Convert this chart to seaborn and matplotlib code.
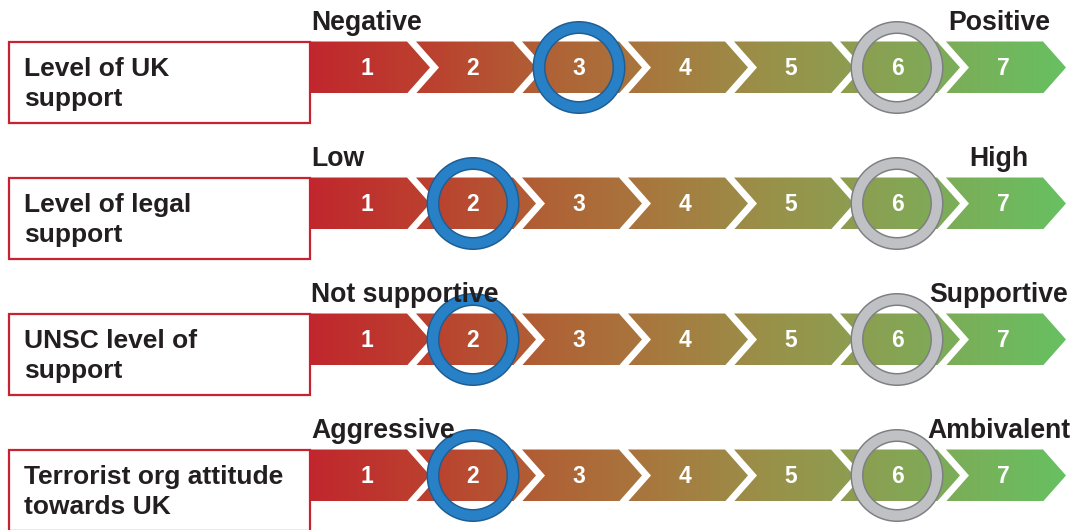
import numpy as np
import pandas as pd
import matplotlib
matplotlib.use("Agg")
import matplotlib.pyplot as plt
from matplotlib.colors import LinearSegmentedColormap
from matplotlib.patches import Rectangle, PathPatch
from matplotlib.path import Path
import seaborn as sns

# ---- data -------------------------------------------------------------
categories = [
    "Level of UK\nsupport",
    "Level of legal\nsupport",
    "UNSC level of\nsupport",
    "Terrorist org attitude\ntowards UK",
]
low_labels = ["Negative", "Low", "Not supportive", "Aggressive"]
high_labels = ["Positive", "High", "Supportive", "Ambivalent"]
scale_steps = [1, 2, 3, 4, 5, 6, 7]
current_score = [3, 2, 2, 2]
target_score = [6, 6, 6, 6]

# ---- styling ----------------------------------------------------------
sns.set_theme(style="white")
plt.rcParams["font.family"] = ["Liberation Sans", "DejaVu Sans"]

W, H, DPI = 1077, 530, 100
STEP_X0, STEP_DX = 367, 106          # pixel centre of step 1, spacing of steps
ROW_Y0, ROW_DY = 67.5, 136           # pixel centre of the first band, row spacing
HALF_H = 26                          # half height of a band
BOX_LEFT = 9
RED = "#c62230"
TEXT = "#231f20"

band_cmap = LinearSegmentedColormap.from_list(
    "rag",
    [(0.00, "#c1272d"), (0.16, "#bb412f"), (0.31, "#b06135"),
     (0.46, "#a7793f"), (0.61, "#999149"), (0.76, "#88a253"),
     (1.00, "#67c061")],
)


def step_x(s):
    return STEP_X0 + (s - 1) * STEP_DX


def row_y(i):
    return ROW_Y0 + i * ROW_DY


fig = plt.figure(figsize=(W / DPI, H / DPI), dpi=DPI)
ax = fig.add_axes([0, 0, 1, 1])
ax.set_axis_off()

label_font = dict(fontsize=19, fontweight="bold", color=TEXT)
head_font = dict(fontsize=19.2, fontweight="bold", color=TEXT)
num_font = dict(fontsize=16.5, fontweight="bold", color="white")

band_left = step_x(scale_steps[0]) - 57
band_right = step_x(scale_steps[-1]) + 63

for i, cat in enumerate(categories):
    yc = row_y(i)
    top, bot = yc - HALF_H, yc + HALF_H

    # chevron outline for every step of the scale
    verts, codes = [], []
    for s in scale_steps:
        c = step_x(s)
        poly = [(c - 57, top), (c + 40, top), (c + 63, yc), (c + 40, bot), (c - 57, bot)]
        if s != scale_steps[0]:
            poly.append((c - 34, yc))
        poly.append(poly[0])
        verts += poly
        codes += [Path.MOVETO] + [Path.LINETO] * (len(poly) - 2) + [Path.CLOSEPOLY]
    chevrons = PathPatch(Path(verts, codes), facecolor="none", edgecolor="none",
                         transform=ax.transData)
    ax.add_patch(chevrons)

    grad = np.linspace(0, 1, 512).reshape(1, -1)
    img = ax.imshow(grad, cmap=band_cmap, aspect="auto", interpolation="bilinear",
                    extent=[band_left, band_right, bot, top], zorder=1)
    img.set_clip_path(chevrons)

    # step numbers
    for s in scale_steps:
        ax.text(step_x(s), yc + 1, str(s), ha="center", va="center", zorder=5, **num_font)

    # category box
    ax.add_patch(Rectangle((BOX_LEFT, top), band_left - BOX_LEFT, 81,
                           facecolor="white", edgecolor=RED, linewidth=1.6, zorder=2))
    for j, line in enumerate(cat.split("\n")):
        ax.text(24, top + 34.5 + j * 30, line, ha="left", va="baseline", zorder=3, **label_font)

    # scale end labels
    ax.text(311, top - 11, low_labels[i], ha="left", va="baseline", zorder=8, **head_font)
    ax.text(step_x(scale_steps[-1]) - 4, top - 11, high_labels[i], ha="center",
            va="baseline", zorder=8, **head_font)

# rings marking the current (blue) and target (grey) positions
rings = pd.DataFrame({
    "x": [step_x(v) for v in current_score] + [step_x(v) for v in target_score],
    "y": [row_y(i) for i in range(len(categories))] * 2,
    "kind": ["current"] * len(current_score) + ["target"] * len(target_score),
})
ring_size = (80 * 72 / DPI) ** 2
ring_styles = {"current": ("#1f5d92", "#2880c6"), "target": ("#7e7f82", "#c0c1c5")}
for kind, (edge, fill) in ring_styles.items():
    sub = rings[rings["kind"] == kind]
    sns.scatterplot(data=sub, x="x", y="y", s=ring_size, facecolor="none",
                    edgecolor=edge, linewidth=13 * 72 / DPI, ax=ax, zorder=6, legend=False)
    sns.scatterplot(data=sub, x="x", y="y", s=ring_size, facecolor="none",
                    edgecolor=fill, linewidth=10 * 72 / DPI, ax=ax, zorder=7, legend=False)

ax.set_xlim(0, W)
ax.set_ylim(H, 0)
fig.savefig("out.png", dpi=DPI, facecolor="white")
